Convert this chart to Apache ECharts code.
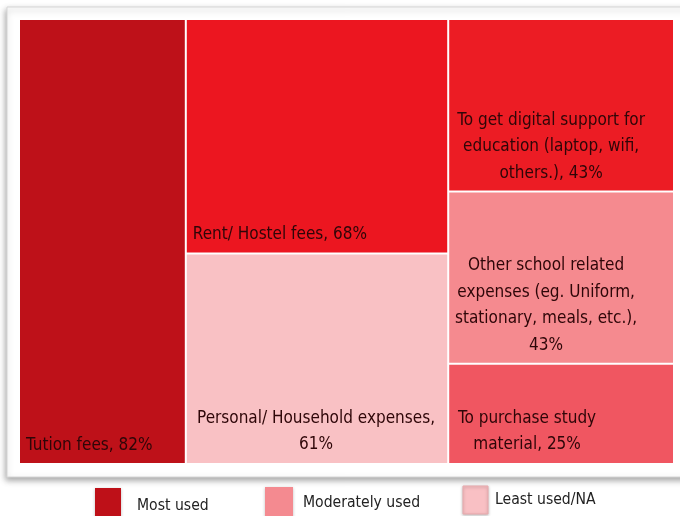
<!DOCTYPE html>
<html>
<head>
<meta charset="utf-8">
<style>
  html, body { margin: 0; padding: 0; background: #fff; }
  #chart { width: 680px; height: 516px; }
</style>
<script src="https://cdn.jsdelivr.net/npm/echarts@6/dist/echarts.min.js"></script>
</head>
<body>
<div id="chart"></div>
<script>
// expense categories and share of respondents (%)
const categories = [
    'Tution fees',
    'Rent/ Hostel fees',
    'Personal/ Household expenses',
    'To get digital support for\neducation (laptop, wifi,\nothers.)',
    'Other school related\nexpenses (eg. Uniform,\nstationary, meals, etc.)',
    'To purchase study\nmaterial'
];
const values = [82, 68, 61, 43, 43, 25];
const legendNames = ['Most used', 'Moderately used', 'Least used/NA'];

// styling per cell (kept out of the data arrays)
const cellColors = ['#BE1119', '#EC1620', '#F9C1C4', '#EC1C24', '#F58A8F', '#F05661'];
const legendColors = ['#BE1018', '#F48A90', '#F9C0C4'];
const cellLabels = [
    {position: 'insideBottomLeft', distance: 6, offset: [-5, 7], sep: ', '},
    {position: 'insideBottomLeft', distance: 6, offset: [-5, 6], sep: ', '},
    {position: 'insideBottom', distance: 6, offset: [-1, 6], sep: ',\n'},
    {position: 'insideBottom', distance: 5, offset: [-10, 6], sep: ', '},
    {position: 'insideBottom', distance: 6, offset: [-15, 7], sep: ',\n'},
    {position: 'insideBottom', distance: 7, offset: [-34, 7], sep: ', '}
];
const FONT = '"Liberation Sans Narrow", "DejaVu Sans Condensed", "Open Sans", sans-serif';

let chart = echarts.init(document.getElementById('chart'), null, {renderer: 'canvas'});

let treeData = categories.map(function (name, i) {
    let ls = cellLabels[i];
    return {
        name: name,
        value: values[i],
        itemStyle: {color: cellColors[i], borderWidth: 0},
        label: {
            position: ls.position,
            distance: ls.distance,
            offset: ls.offset,
            formatter: function (p) {
                return p.name + ls.sep + p.value + '%';
            }
        }
    };
});

// legend drawn as graphic elements
let legendGraphics = [];
const legendBoxes = [[95, 488, 26, 30], [265, 487, 28, 30], [463, 486, 25, 28]];
const legendText = [[137, 506], [303, 503], [495, 500]];
legendNames.forEach(function (n, i) {
    let b = legendBoxes[i];
    legendGraphics.push({
        type: 'rect',
        shape: {x: b[0], y: b[1], width: b[2], height: b[3]},
        style: {fill: legendColors[i], stroke: i == 2 ? '#e9a9ad' : null, lineWidth: 1,
            shadowBlur: 3, shadowOffsetY: 1, shadowColor: 'rgba(0,0,0,0.25)'},
        z: 10
    });
    legendGraphics.push({
        type: 'text',
        x: legendText[i][0],
        y: legendText[i][1],
        style: {text: n, fill: '#222', font: '15.6px ' + FONT, textVerticalAlign: 'middle'},
        z: 10
    });
});

let option = {
    animation: false,
    backgroundColor: '#fff',
    graphic: [{
        type: 'rect',
        shape: {x: 7, y: 7, width: 690, height: 470},
        style: {fill: '#fff', stroke: '#d6d6d6', lineWidth: 1,
            shadowBlur: 6, shadowOffsetX: -1, shadowOffsetY: 3, shadowColor: 'rgba(0,0,0,0.35)'},
        z: -10
    }].concat(legendGraphics),
    series: [{
        type: 'treemap',
        left: 20,
        top: 20,
        width: 653,
        height: 443,
        roam: false,
        nodeClick: false,
        sort: false,
        squareRatio: 0.7,
        breadcrumb: {show: false},
        itemStyle: {gapWidth: 2, borderWidth: 0},
        label: {
            show: true,
            color: '#2e0608',
            fontFamily: FONT,
            fontSize: 17,
            lineHeight: 26.5
        },
        emphasis: {disabled: true},
        data: treeData
    }]
};

chart.setOption(option);
</script>
</body>
</html>
